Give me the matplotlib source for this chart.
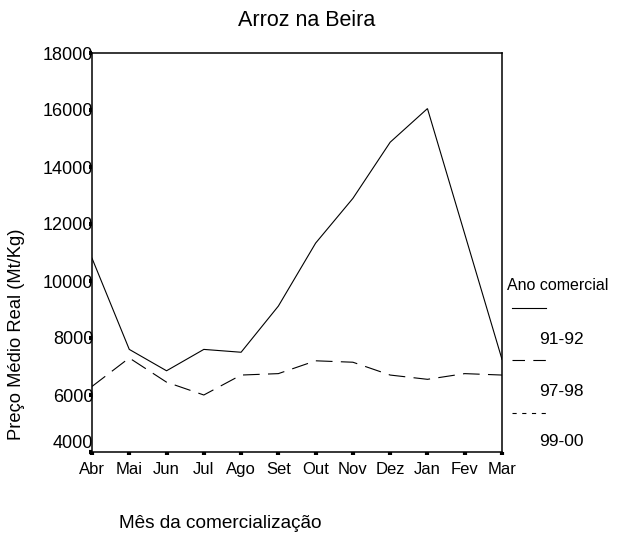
import numpy as np
import matplotlib
matplotlib.use("Agg")
import matplotlib.pyplot as plt
import matplotlib.transforms as mtransforms
from matplotlib.lines import Line2D

plt.rcParams["font.family"] = ["Liberation Sans", "DejaVu Sans"]
plt.rcParams["lines.scale_dashes"] = False

MONTHS = ["Abr", "Mai", "Jun", "Jul", "Ago", "Set", "Out", "Nov", "Dez", "Jan", "Fev", "Mar"]
PRICE_91_92 = [10800, 7600, 6850, 7600, 7500, 9120, 11330, 12900, 14870, 16050, 11650, 7250]
PRICE_97_98 = [6300, 7300, 6450, 6000, 6700, 6750, 7200, 7150, 6700, 6550, 6750, 6700]
YTICKS = [4000, 6000, 8000, 10000, 12000, 14000, 16000, 18000]
SERIES = ["91-92", "97-98", "99-00"]

W, H = 626, 540


def fx(px):
    return px / W


def fy(py):
    return 1 - py / H


fig = plt.figure(figsize=(W / 100, H / 100), dpi=100)
ax = fig.add_axes([fx(92), fy(452), fx(502) - fx(92), fy(53) - fy(452)])

x = np.arange(len(MONTHS))
ax.plot(x, PRICE_91_92, color="black", lw=0.8, solid_joinstyle="miter")
ax.plot(x, PRICE_97_98, color="black", lw=0.8, dashes=(12, 6))

ax.set_xlim(0, len(MONTHS) - 1)
ax.set_ylim(4000, 18000)
ax.set_xticks(x)
ax.set_xticklabels(MONTHS, fontsize=12)
ax.set_yticks(YTICKS)
ax.set_yticklabels([str(v) for v in YTICKS], fontsize=13)
ax.tick_params(axis="both", direction="out", length=2, width=3, color="black")
ax.tick_params(axis="y", pad=-3)
ax.tick_params(axis="x", pad=5)
for s in ax.spines.values():
    s.set_linewidth(1.1)
    s.set_color("black")

# lowest y label sits a bit above its tick in the original
lab0 = ax.get_yticklabels()[0]
lab0.set_transform(lab0.get_transform() + mtransforms.ScaledTranslation(0, 10 / 100, fig.dpi_scale_trans))

fig.text(fx(307), fy(20), "Arroz na Beira", ha="center", va="center", fontsize=15.5)
fig.text(fx(220), fy(524), "Mês da comercialização", ha="center", va="center", fontsize=13.7)
fig.text(fx(17), fy(334), "Preço Médio Real (Mt/Kg)", ha="center", va="center",
         rotation=90, fontsize=13.2)

# legend drawn by hand, like the original
fig.text(fx(507), fy(285), "Ano comercial", ha="left", va="center", fontsize=11.5)
styles = [dict(), dict(dashes=(9, 6)), dict(dashes=(3, 4))]
line_y = [308, 360, 413]
label_y = [339, 391, 442]
for name, st, ly, ty in zip(SERIES, styles, line_y, label_y):
    fig.add_artist(Line2D([fx(512), fx(546)], [fy(ly), fy(ly)], color="black", lw=0.8, **st))
    fig.text(fx(539), fy(ty), name, ha="left", va="center", fontsize=12.5)

fig.savefig("out.png", dpi=100)
